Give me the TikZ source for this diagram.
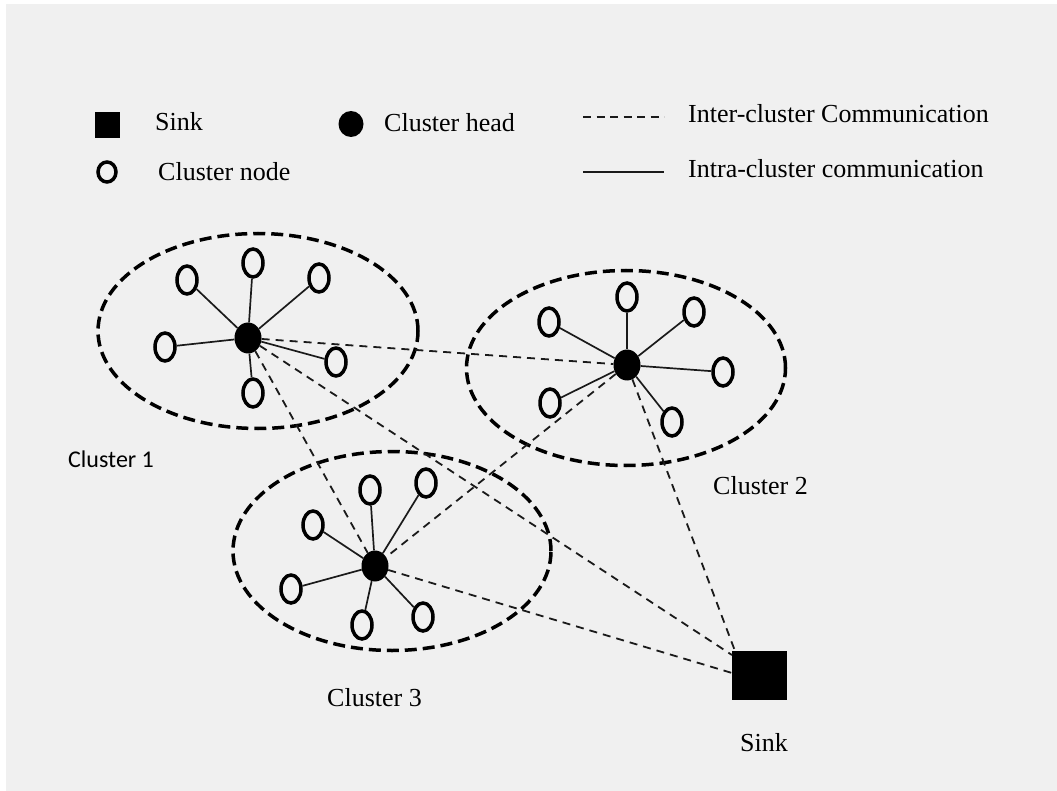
\documentclass[tikz,border=0pt]{standalone}
\usepackage{fontspec}
\setmainfont{Liberation Serif}
\newfontfamily\calfont{Carlito}
\usetikzlibrary{shapes.geometric}
\definecolor{bg}{HTML}{F0F0F0}
\definecolor{ink}{HTML}{1A1A1A}
\begin{document}
\begin{tikzpicture}[x=1pt,y=-1pt,
  lbl/.style={font=\fontsize{26pt}{30pt}\selectfont, inner sep=0pt, anchor=base west, text=black},
  head/.style={ellipse, fill=black, minimum width=27pt, minimum height=31pt, inner sep=0pt},
  cnode/.style={ellipse, draw=black, fill=bg, line width=3.5pt, minimum width=20pt, minimum height=28pt, inner sep=0pt},
  cluster/.style={ellipse, draw=black, line width=3.5pt, dash pattern=on 12pt off 6pt, inner sep=0pt},
  inter/.style={draw=ink, line width=1.8pt, dash pattern=on 8pt off 6pt},
  intra/.style={draw=ink, line width=1.7pt},
  sinkbox/.style={rectangle, fill=black, inner sep=0pt}
]
\useasboundingbox (0,0) rectangle (1057,791);
\fill[white] (0,0) rectangle (1057,791);
\fill[bg] (6,4) rectangle (1057,791);

% legend
\node[sinkbox, minimum width=25pt, minimum height=26pt] (lsink) at (107,125) {};
\node[lbl] (tsink) at (155,131) {Sink};
\node[head, minimum width=25pt, minimum height=26pt] (lhead) at (351,124) {};
\node[lbl] (thead) at (384,132) {Cluster head};
\node[cnode, minimum width=18pt, minimum height=20pt] (lnode) at (107,172) {};
\node[lbl] (tnode) at (158,181) {Cluster node};
\coordinate (ld1) at (583,117);
\coordinate (ld2) at (664,117);
\draw[inter, dash pattern=on 8pt off 5.5pt] (ld1) -- (ld2);
\node[lbl] (tinter) at (688,123) {Inter-cluster Communication};
\coordinate (ls1) at (583,172);
\coordinate (ls2) at (664,172);
\draw[intra, line width=2pt] (ls1) -- (ls2);
\node[lbl] (tintra) at (688,178) {Intra-cluster communication};

% cluster boundaries
\node[cluster, minimum width=320pt, minimum height=195pt] (c1) at (258,331) {};
\node[cluster, minimum width=319pt, minimum height=195pt] (c2) at (626,368) {};
\node[cluster, minimum width=318pt, minimum height=199pt] (c3) at (392,551) {};

% heads
\node[head] (h1) at (248,338) {};
\node[head] (h2) at (627,365) {};
\node[head] (h3) at (375,566) {};

% sink
\node[sinkbox, minimum width=55pt, minimum height=49pt] (sink) at (759.5,675.5) {};
\coordinate (s1) at (732,655);
\coordinate (s2) at (735,651);
\coordinate (s3) at (732,673);

% cluster 1 nodes
\node[cnode] (a1) at (187,280) {};
\node[cnode] (a2) at (253,263) {};
\node[cnode] (a3) at (319,278) {};
\node[cnode] (a4) at (165,347) {};
\node[cnode] (a5) at (336,362) {};
\node[cnode] (a6) at (253,393) {};
% cluster 2 nodes
\node[cnode] (b1) at (549,322) {};
\node[cnode] (b2) at (627,297) {};
\node[cnode] (b3) at (694,312) {};
\node[cnode] (b4) at (723,372) {};
\node[cnode] (b5) at (550,403) {};
\node[cnode] (b6) at (672,422) {};
% cluster 3 nodes
\node[cnode] (d1) at (313,525) {};
\node[cnode] (d2) at (370,490) {};
\node[cnode] (d3) at (426,483) {};
\node[cnode] (d4) at (291,589) {};
\node[cnode] (d5) at (362,625) {};
\node[cnode] (d6) at (423,617) {};

% intra-cluster links
\foreach \n in {a1,a2,a3,a4,a5,a6} \draw[intra] (h1) -- (\n);
\foreach \n in {b1,b2,b3,b4,b5,b6} \draw[intra] (h2) -- (\n);
\foreach \n in {d1,d2,d3,d4,d5,d6} \draw[intra] (h3) -- (\n);

% inter-cluster links
\draw[inter] (h1) -- (h2);
\draw[inter] (h1) -- (h3);
\draw[inter] (h2) -- (h3);
\draw[inter] (h1) -- (s1);
\draw[inter] (h2) -- (s2);
\draw[inter] (h3) -- (s3);

% labels
\node[lbl, font=\calfont\fontsize{24pt}{28pt}\selectfont] (l1) at (68,467) {Cluster 1};
\node[lbl] (l2) at (713,494) {Cluster 2};
\node[lbl] (l3) at (327,706) {Cluster 3};
\node[lbl] (l4) at (740,751) {Sink};
\end{tikzpicture}
\end{document}
